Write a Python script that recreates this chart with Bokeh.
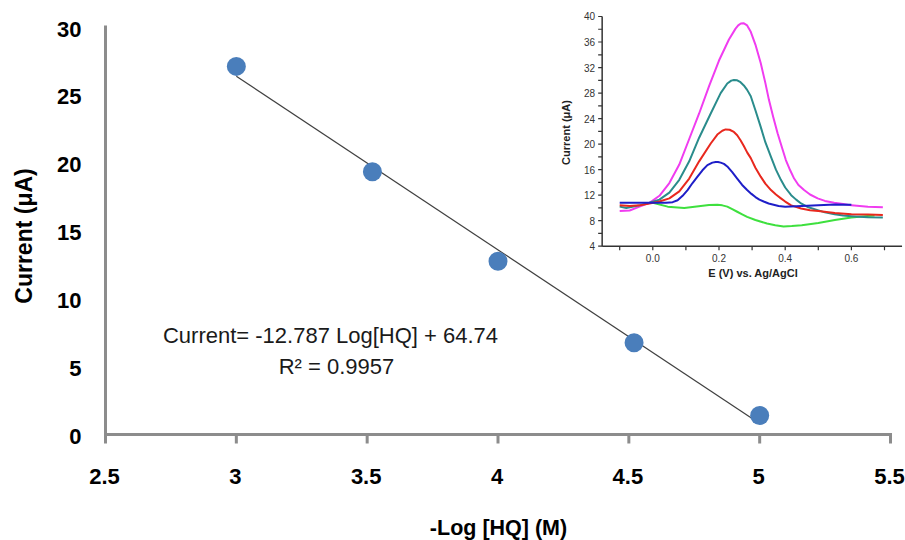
import numpy as np
from bokeh.plotting import figure
from bokeh.models import Range1d, ColumnDataSource
from bokeh.embed import file_html
from bokeh.resources import INLINE
from bokeh.core.properties import value

# ---------------- main chart data ----------------
LOG_HQ = [3.0, 3.52, 4.0, 4.52, 5.0]
CURRENT = [27.1, 19.35, 12.75, 6.75, 1.4]
FIT_SLOPE = -12.787
FIT_INTERCEPT = 64.74
X_TICKS = [2.5, 3.0, 3.5, 4.0, 4.5, 5.0, 5.5]
X_TICK_LABELS = ["2.5", "3", "3.5", "4", "4.5", "5", "5.5"]
Y_TICKS = [0, 5, 10, 15, 20, 25, 30]
Y_TICK_LABELS = ["0", "5", "10", "15", "20", "25", "30"]
X_TITLE = "-Log [HQ] (M)"
Y_TITLE = "Current (\u03bcA)"
EQ_TEXT = "Current= -12.787 Log[HQ] + 64.74"
R2_TEXT = "R\u00b2 = 0.9957"

# ---------------- inset data (DPV curves) ----------------
MAG_E = [-0.10, -0.07, -0.04, -0.01, 0.02, 0.05, 0.08, 0.11, 0.14, 0.17, 0.20, 0.23, 0.25,
         0.258, 0.266, 0.274, 0.285, 0.296, 0.31, 0.326, 0.34, 0.351, 0.364, 0.377, 0.39, 0.402,
         0.415, 0.427, 0.44, 0.457, 0.475, 0.498, 0.52, 0.548, 0.575, 0.60, 0.65, 0.695]
MAG_I = [9.5, 9.6, 10.2, 10.8, 11.9, 13.9, 16.8, 20.8, 24.8, 29.1, 33.1, 36.4, 38.1,
         38.6, 38.9, 38.95, 38.6, 37.6, 35.6, 32.7, 29.6, 26.9, 24.2, 21.7, 19.5, 17.5,
         15.9, 14.6, 13.6, 12.8, 12.1, 11.5, 11.1, 10.8, 10.6, 10.4, 10.2, 10.1]
TEAL_E = [-0.10, -0.08, -0.04, -0.01, 0.02, 0.05, 0.08, 0.11, 0.14, 0.175, 0.205, 0.225, 0.237,
          0.245, 0.255, 0.265, 0.275, 0.285, 0.296, 0.31, 0.326, 0.34, 0.357, 0.372, 0.387,
          0.40, 0.418, 0.433, 0.448, 0.47, 0.498, 0.52, 0.549, 0.575, 0.60, 0.65, 0.695]
TEAL_I = [10.2, 10.0, 10.4, 10.8, 11.3, 12.4, 14.4, 17.3, 21.0, 24.8, 28.0, 29.5, 29.95,
          30.05, 30.0, 29.7, 29.2, 28.5, 27.5, 25.3, 22.7, 20.3, 18.0, 16.0, 14.4,
          13.2, 12.0, 11.3, 10.7, 10.1, 9.65, 9.3, 9.0, 8.8, 8.7, 8.55, 8.5]
RED_E = [-0.10, -0.07, -0.04, -0.01, 0.02, 0.05, 0.08, 0.11, 0.14, 0.175, 0.195, 0.21, 0.22,
         0.232, 0.245, 0.255, 0.265, 0.275, 0.285, 0.296, 0.31, 0.326, 0.34, 0.357, 0.372,
         0.387, 0.40, 0.418, 0.448, 0.475, 0.50, 0.55, 0.60, 0.65, 0.695]
RED_I = [10.4, 10.3, 10.4, 10.7, 11.0, 11.5, 12.6, 14.6, 17.3, 20.1, 21.5, 22.1, 22.3,
         22.25, 21.9, 21.4, 20.6, 19.7, 18.7, 17.8, 16.3, 14.9, 13.8, 12.8, 12.1,
         11.5, 11.0, 10.4, 9.9, 9.65, 9.5, 9.2, 9.0, 8.95, 8.9]
BLUE_E = [-0.10, -0.05, 0.0, 0.04, 0.06, 0.075, 0.09, 0.105, 0.12, 0.135, 0.15, 0.165, 0.18,
          0.19, 0.197, 0.205, 0.215, 0.225, 0.24, 0.255, 0.27, 0.285, 0.298, 0.31, 0.322,
          0.335, 0.35, 0.365, 0.38, 0.40, 0.45, 0.50, 0.55, 0.60]
BLUE_I = [10.8, 10.8, 10.8, 10.8, 10.9, 11.2, 11.9, 12.8, 13.9, 14.9, 15.9, 16.7, 17.1,
          17.2, 17.2, 17.1, 16.9, 16.5, 15.6, 14.6, 13.6, 12.8, 12.2, 11.7, 11.3,
          11.0, 10.7, 10.5, 10.3, 10.2, 10.3, 10.4, 10.55, 10.5]
GREEN_E = [0.0, 0.045, 0.095, 0.145, 0.17, 0.195, 0.21, 0.225, 0.24, 0.255, 0.27, 0.285, 0.31,
           0.345, 0.37, 0.395, 0.42, 0.45, 0.50, 0.55, 0.60, 0.64, 0.67]
GREEN_I = [10.8, 10.2, 10.0, 10.3, 10.45, 10.5, 10.4, 10.2, 9.8, 9.4, 9.0, 8.6, 8.1,
           7.55, 7.3, 7.1, 7.15, 7.3, 7.65, 8.1, 8.5, 8.7, 8.8]
INSET_X_TICKS = [-0.1, 0.0, 0.1, 0.2, 0.3, 0.4, 0.5, 0.6, 0.7]
INSET_X_LABEL_TICKS = [0.0, 0.2, 0.4, 0.6]
INSET_X_LABELS = ["0.0", "0.2", "0.4", "0.6"]
INSET_Y_TICKS = [4, 6, 8, 10, 12, 14, 16, 18, 20, 22, 24, 26, 28, 30, 32, 34, 36, 38, 40]
INSET_Y_LABEL_TICKS = [4, 8, 12, 16, 20, 24, 28, 32, 36, 40]
INSET_Y_LABELS = ["4", "8", "12", "16", "20", "24", "28", "32", "36", "40"]
INSET_X_TITLE = "E (V) vs. Ag/AgCl"
INSET_Y_TITLE = "Current (\u03bcA)"

# ---------------- layout constants (page pixels) ----------------
W, H = 905, 540
X0_PX, PX_PER_X = 105, 261.67      # main: pixel of x=2.5, px per unit
Y0_PX, PX_PER_Y = 434, 13.583      # main: pixel of y=0, px per uA
X_AT_0 = 2.5
INS_E0_PX, INS_PX_PER_E = 652.3, 331.0
INS_I4_PX, INS_PX_PER_I = 245.7, 6.3806
INS_E_MIN, INS_E_MAX, INS_I_MIN, INS_I_MAX = -0.153, 0.753, 4, 40


def mx(px):
    return X_AT_0 + (px - X0_PX) / PX_PER_X


def my(py):
    return (Y0_PX - py) / PX_PER_Y


def ix(px):
    return (px - INS_E0_PX) / INS_PX_PER_E


def iy(py):
    return 4 + (INS_I4_PX - py) / INS_PX_PER_I


p = figure(width=W, height=H, output_backend="svg", toolbar_location=None,
           x_range=Range1d(mx(0), mx(W)), y_range=Range1d(my(H), my(0)),
           x_axis_location=None, y_axis_location=None,
           min_border_left=0, min_border_right=0, min_border_top=0, min_border_bottom=0)
p.outline_line_color = None
p.grid.visible = False
p.background_fill_color = "white"
p.border_fill_color = "white"

p.extra_x_ranges = {"ix": Range1d(ix(0), ix(W))}
p.extra_y_ranges = {"iy": Range1d(iy(H), iy(0))}

# ---------------- main axes ----------------
AX_COLOR = "#8c8c8c"
TICK_FONT = dict(text_font=value("Liberation Sans"), text_font_style="bold",
                 text_font_size="22px", text_color="black", text_baseline="middle")
p.segment(x0=[X_TICKS[0], X_TICKS[0]], y0=[Y_TICKS[0], Y_TICKS[0]],
          x1=[X_TICKS[-1], X_TICKS[0]], y1=[Y_TICKS[0], Y_TICKS[-1]],
          line_color=AX_COLOR, line_width=3, line_cap="square")
p.ray(x=X_TICKS, y=[Y_TICKS[0]] * len(X_TICKS), length=9, length_units="screen",
      angle=-np.pi / 2, line_color=AX_COLOR, line_width=3)
p.text(x=X_TICKS, y=[Y_TICKS[0]] * len(X_TICKS), text=X_TICK_LABELS, text_align="center",
       x_offset=-1, y_offset=42, **TICK_FONT)
p.text(x=[X_TICKS[0]] * len(Y_TICKS), y=Y_TICKS, text=Y_TICK_LABELS, text_align="right",
       x_offset=-24, y_offset=2, **TICK_FONT)

# axis titles
p.text(x=[mx(498)], y=[my(527)], text=[X_TITLE], text_align="center",
       text_baseline="middle", text_font=value("Liberation Sans"), text_font_style="bold",
       text_font_size="21.5px", text_color="black")
p.text(x=[mx(23)], y=[my(235.5)], text=[Y_TITLE], text_align="center",
       text_baseline="middle", angle=np.pi / 2, text_font=value("Liberation Sans"),
       text_font_style="bold", text_font_size="23px", text_color="black")

# trend line and points
fit_x = np.array([LOG_HQ[0], LOG_HQ[-1]])
fit_y = FIT_SLOPE * fit_x + FIT_INTERCEPT
p.line(fit_x, fit_y, line_color="#404040", line_width=1.2)
p.scatter(LOG_HQ, CURRENT, size=19, fill_color="#4a7ebb", line_color=None)

EQ_FONT = dict(text_font=value("Liberation Sans"), text_font_size="22px", text_color="#1a1a1a",
               text_align="center", text_baseline="middle")
p.text(x=[mx(330)], y=[my(335)], text=[EQ_TEXT], **EQ_FONT)
p.text(x=[mx(336)], y=[my(366)], text=[R2_TEXT], **EQ_FONT)

# ---------------- inset ----------------
R = dict(x_range_name="ix", y_range_name="iy")
curves = [(GREEN_E, GREEN_I, "#3ee03e"), (MAG_E, MAG_I, "#f03cf0"), (TEAL_E, TEAL_I, "#2a8c8c"),
          (RED_E, RED_I, "#e8281e"), (BLUE_E, BLUE_I, "#1e1ec8")]
for e, i, c in curves:
    p.line(e, i, line_color=c, line_width=2, line_join="round", **R)

IN_AX = "#333333"
p.segment(x0=[INS_E_MIN, INS_E_MIN], y0=[INS_I_MIN, INS_I_MIN],
          x1=[INS_E_MIN, INS_E_MAX], y1=[INS_I_MAX, INS_I_MIN],
          line_color=IN_AX, line_width=1.5, **R)
p.ray(x=INSET_X_TICKS, y=[INS_I_MIN] * len(INSET_X_TICKS), length=4, length_units="screen",
      angle=-np.pi / 2, line_color=IN_AX, line_width=1.2, **R)
p.ray(x=[INS_E_MIN] * len(INSET_Y_TICKS), y=INSET_Y_TICKS, length=4, length_units="screen",
      angle=np.pi, line_color=IN_AX, line_width=1.2, **R)

src_xl = ColumnDataSource(dict(x=INSET_X_LABEL_TICKS, y=[INS_I_MIN] * len(INSET_X_LABEL_TICKS),
                               t=INSET_X_LABELS))
p.text(x="x", y="y", text="t", source=src_xl, text_align="center", text_baseline="middle",
       y_offset=12, text_font=value("Liberation Sans"), text_font_size="10px",
       text_color="#333333", **R)
src_yl = ColumnDataSource(dict(x=[INS_E_MIN] * len(INSET_Y_LABEL_TICKS), y=INSET_Y_LABEL_TICKS,
                               t=INSET_Y_LABELS))
p.text(x="x", y="y", text="t", source=src_yl, text_align="right", text_baseline="middle",
       x_offset=-7, text_font=value("Liberation Sans"), text_font_size="10px",
       text_color="#333333", **R)

p.text(x=[ix(752.7)], y=[iy(272)], text=[INSET_X_TITLE], text_align="center",
       text_baseline="middle", text_font=value("Liberation Sans"), text_font_style="bold",
       text_font_size="11px", text_color="#222222", **R)
p.text(x=[ix(565)], y=[iy(132)], text=[INSET_Y_TITLE], text_align="center",
       text_baseline="middle", angle=np.pi / 2, text_font=value("Liberation Sans"),
       text_font_style="bold", text_font_size="11px", text_color="#222222", **R)

open("out.html", "w").write(file_html(p, INLINE))
